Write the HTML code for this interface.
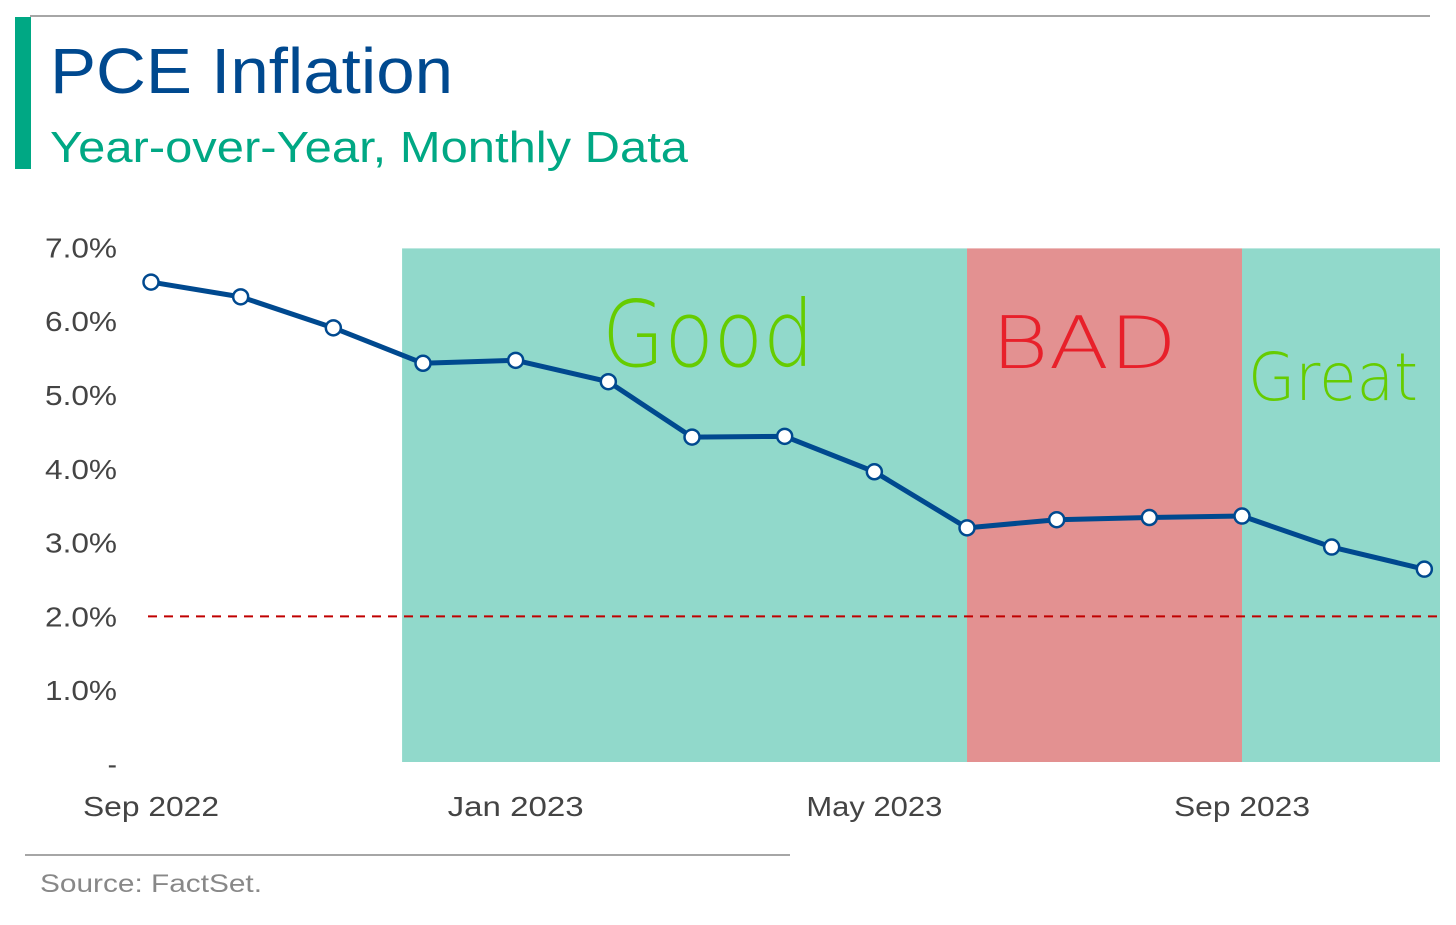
<!DOCTYPE html>
<html><head><meta charset="utf-8"><style>
body{margin:0;background:#fff;width:1456px;height:920px;overflow:hidden;font-family:"Liberation Sans",sans-serif}
</style></head><body>
<svg width="1456" height="920" xmlns="http://www.w3.org/2000/svg">
<line x1="30" y1="16" x2="1430" y2="16" stroke="#888" stroke-width="1.5"/>
<rect x="15" y="17" width="16" height="152" fill="#00a884"/>
<text x="50" y="93" font-size="64" fill="#00498f" textLength="403" lengthAdjust="spacingAndGlyphs">PCE Inflation</text>
<text x="50" y="162" font-size="44" fill="#00a884" textLength="638" lengthAdjust="spacingAndGlyphs">Year-over-Year, Monthly Data</text>
<g id="plot"></g>
<line x1="25" y1="855" x2="790" y2="855" stroke="#888" stroke-width="1.5"/>
<text x="40" y="892" font-size="25" fill="#888" textLength="222" lengthAdjust="spacingAndGlyphs">Source: FactSet.</text>
</svg>
<script>
const months=["2022-09","2022-10","2022-11","2022-12","2023-01","2023-02","2023-03","2023-04","2023-05","2023-06","2023-07","2023-08","2023-09","2023-10","2023-11"];
const pce=[6.53,6.33,5.91,5.43,5.47,5.18,4.43,4.44,3.96,3.20,3.31,3.34,3.36,2.94,2.64];
const yTicks=[0,1,2,3,4,5,6,7];
const yTickLabels=["-","1.0%","2.0%","3.0%","4.0%","5.0%","6.0%","7.0%"];
const xTicks=["2022-09","2023-01","2023-05","2023-09"];
const xTickLabels=["Sep 2022","Jan 2023","May 2023","Sep 2023"];
const target=[2.0];
const zones=[["2022-11-24","2023-06-01","#91d9cb","Good","#66cc00"],["2023-06-01","2023-09-01","#e39191","BAD","#e8202a"],["2023-09-01","2023-11-06","#91d9cb","Great","#66cc00"]];
const NS="http://www.w3.org/2000/svg";
const t0=Date.UTC(2022,8,1);
function dx(s){const p=s.split("-");return Date.UTC(+p[0],+p[1]-1,p[2]?+p[2]:1);}
function X(s){return 151+(dx(s)-t0)/86400000*(1091/365);}
function Y(v){return 764-v*73.8;}
const g=document.getElementById("plot");
function mk(tag,attrs){const e=document.createElementNS(NS,tag);for(const k in attrs)e.setAttribute(k,attrs[k]);g.appendChild(e);return e;}
zones.forEach((z,i)=>{
 const x1=X(z[0]);const x2=(i==2)?1440:X(z[1]);
 const r=mk("rect",{x:x1,y:Y(7)+1,width:x2-x1,height:Y(0)-Y(7)-3,fill:z[2]});
 
 
});
zones.forEach((z,i)=>{
 const sizes=[92,72,66];const offs=[200,24,6];const ys=[366,368,400];const lens=[212,186,170];
 const t=mk("text",{x:X(z[0])+offs[i],y:ys[i],"font-size":sizes[i],fill:z[4],"font-family":"DejaVu Sans, sans-serif","font-weight":"300",textLength:lens[i],lengthAdjust:"spacingAndGlyphs"});
 t.textContent=z[3];
 
 
});
yTicks.forEach((v,i)=>{
 const a={x:117,y:Y(v)+10,"font-size":28,fill:"#444","text-anchor":"end"};
 if(i>0){a.textLength=72;a.lengthAdjust="spacingAndGlyphs";}
 const t=mk("text",a);
 t.textContent=yTickLabels[i];
 
 
});
xTicks.forEach((m,i)=>{
 const t=mk("text",{x:X(m)-68,y:816,"font-size":28,fill:"#444",textLength:136,lengthAdjust:"spacingAndGlyphs"});
 t.textContent=xTickLabels[i];
 
 
});
const tl=mk("line",{x1:148,x2:1440,y1:Y(target[0]),y2:Y(target[0]),stroke:"#c00000","stroke-width":2,"stroke-dasharray":"9 7"});


const pl=mk("polyline",{points:months.map((m,i)=>X(m)+","+Y(pce[i])).join(" "),fill:"none",stroke:"#00498f","stroke-width":5,"stroke-linejoin":"round"});


months.forEach((m,i)=>{
 const c=mk("circle",{cx:X(m),cy:Y(pce[i]),r:7.5,fill:"#fff",stroke:"#00498f","stroke-width":2.5});
 
 
});
</script>
</body></html>
